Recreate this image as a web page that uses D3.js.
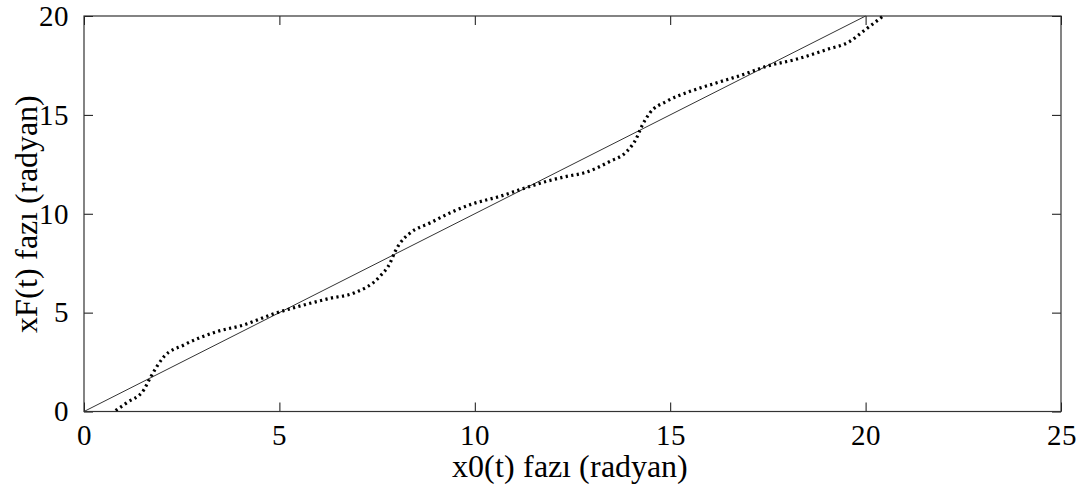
<!DOCTYPE html>
<html>
<head>
<meta charset="utf-8">
<script src="https://cdn.jsdelivr.net/npm/d3@7"></script>
<style>
  @font-face { font-family: 'ChartSerif'; src: local('Liberation Serif'), local('LiberationSerif'), local('Times New Roman'); }
  body { margin: 0; background: #fff; font-family: 'ChartSerif', 'Liberation Serif', serif; }
  #content { position: relative; width: 1089px; height: 489px; }
  .title { position: absolute; font-size: 32px; color: #000; white-space: nowrap; line-height: 1; }
</style>
</head>
<body>
<div id="content"></div>
<script>
// reference line xF = x0
var refX = [0, 20];
var refY = [0, 20];

// dotted phase curve
var phaseX = [0.81, 1.1, 1.53, 1.71, 2.05, 2.56, 3.4, 4.09, 4.78, 5.54, 6.31, 6.89, 7.57, 7.83,
    7.96, 8.09, 8.34, 8.85, 9.45, 9.96, 10.64, 11.16, 11.84, 12.35, 12.78, 13.46, 13.89, 14.14,
    14.27, 14.48, 14.91, 15.51, 16.19, 16.87, 17.47, 18.2, 19.0, 19.6, 19.94, 20.28, 20.45];
var phaseY = [0.05, 0.45, 1.09, 1.76, 2.78, 3.37, 4.04, 4.38, 4.89, 5.34, 5.73, 5.98, 6.83, 7.5,
    8.09, 8.52, 9.02, 9.53, 10.12, 10.51, 10.88, 11.22, 11.64, 11.89, 12.06, 12.65, 13.15, 13.83,
    14.42, 15.1, 15.69, 16.19, 16.62, 17.04, 17.46, 17.8, 18.3, 18.72, 19.23, 19.74, 20.0];

var xTicks = [0, 5, 10, 15, 20, 25];
var yTicks = [0, 5, 10, 15, 20];
var xLabel = "x0(t) fazı (radyan)";
var yLabel = "xF(t) fazı (radyan)";

var width = 1089, height = 489;
var margin = {top: 16, right: 28, bottom: 77.5, left: 84};
var tick = 9;
var fs = 29;
var serif = "'ChartSerif', 'Liberation Serif', serif";

var container = d3.select("#content");
var svg = container.append("svg")
    .attr("width", width).attr("height", height)
    .style("display", "block");

var x = d3.scaleLinear().domain([0, 25]).range([margin.left, width - margin.right]);
var y = d3.scaleLinear().domain([0, 20]).range([height - margin.bottom, margin.top]);

function styleAxis(g) {
    g.attr("font-family", null).attr("font-size", null);
    g.select(".domain").remove();
    g.selectAll("text").style("font-family", serif).style("font-size", fs + "px").attr("fill", "#000");
    g.selectAll("line").attr("stroke", "#111");
}

// inward ticks on all four sides
svg.append("g")
    .attr("transform", "translate(0," + (height - margin.bottom) + ")")
    .call(d3.axisBottom(x).tickValues(xTicks).tickSize(-tick).tickPadding(tick + 4).tickFormat(d3.format("d")))
    .call(styleAxis);
svg.append("g")
    .attr("transform", "translate(0," + margin.top + ")")
    .call(d3.axisTop(x).tickValues(xTicks).tickSize(-tick).tickFormat(""))
    .call(styleAxis);
svg.append("g")
    .attr("transform", "translate(" + margin.left + ",0)")
    .call(d3.axisLeft(y).tickValues(yTicks).tickSize(-tick).tickPadding(tick + 6).tickFormat(d3.format("d")))
    .call(styleAxis);
svg.append("g")
    .attr("transform", "translate(" + (width - margin.right) + ",0)")
    .call(d3.axisRight(y).tickValues(yTicks).tickSize(-tick).tickFormat(""))
    .call(styleAxis);

// box
svg.append("rect")
    .attr("x", margin.left).attr("y", margin.top)
    .attr("width", width - margin.left - margin.right)
    .attr("height", height - margin.top - margin.bottom)
    .attr("fill", "none").attr("stroke", "#333").attr("stroke-width", 1.2);

svg.append("clipPath").attr("id", "plotclip").append("rect")
    .attr("x", margin.left).attr("y", margin.top - 1)
    .attr("width", width - margin.left - margin.right)
    .attr("height", height - margin.top - margin.bottom + 1);

var line = d3.line()
    .x(function(d) { return x(d[0]); })
    .y(function(d) { return y(d[1]); });

svg.append("path")
    .datum(d3.zip(refX, refY))
    .attr("fill", "none")
    .attr("stroke", "#333")
    .attr("stroke-width", 1)
    .attr("d", line);

svg.append("path")
    .datum(d3.zip(phaseX, phaseY))
    .attr("clip-path", "url(#plotclip)")
    .attr("fill", "none")
    .attr("stroke", "#000")
    .attr("stroke-width", 3.2)
    .attr("stroke-dasharray", "2.2,3.4")
    .attr("d", line.curve(d3.curveMonotoneX));

// axis titles as html text
container.append("div").attr("class", "title")
    .style("left", "570px").style("top", "450px")
    .style("transform", "translateX(-50%)")
    .text(xLabel);

container.append("div").attr("class", "title")
    .style("left", "26px").style("top", (margin.top + (height - margin.top - margin.bottom) / 2) + "px")
    .style("transform", "translate(-50%, -50%) rotate(-90deg) translateY(0)")
    .style("transform-origin", "center center")
    .text(yLabel);
</script>
</body>
</html>
